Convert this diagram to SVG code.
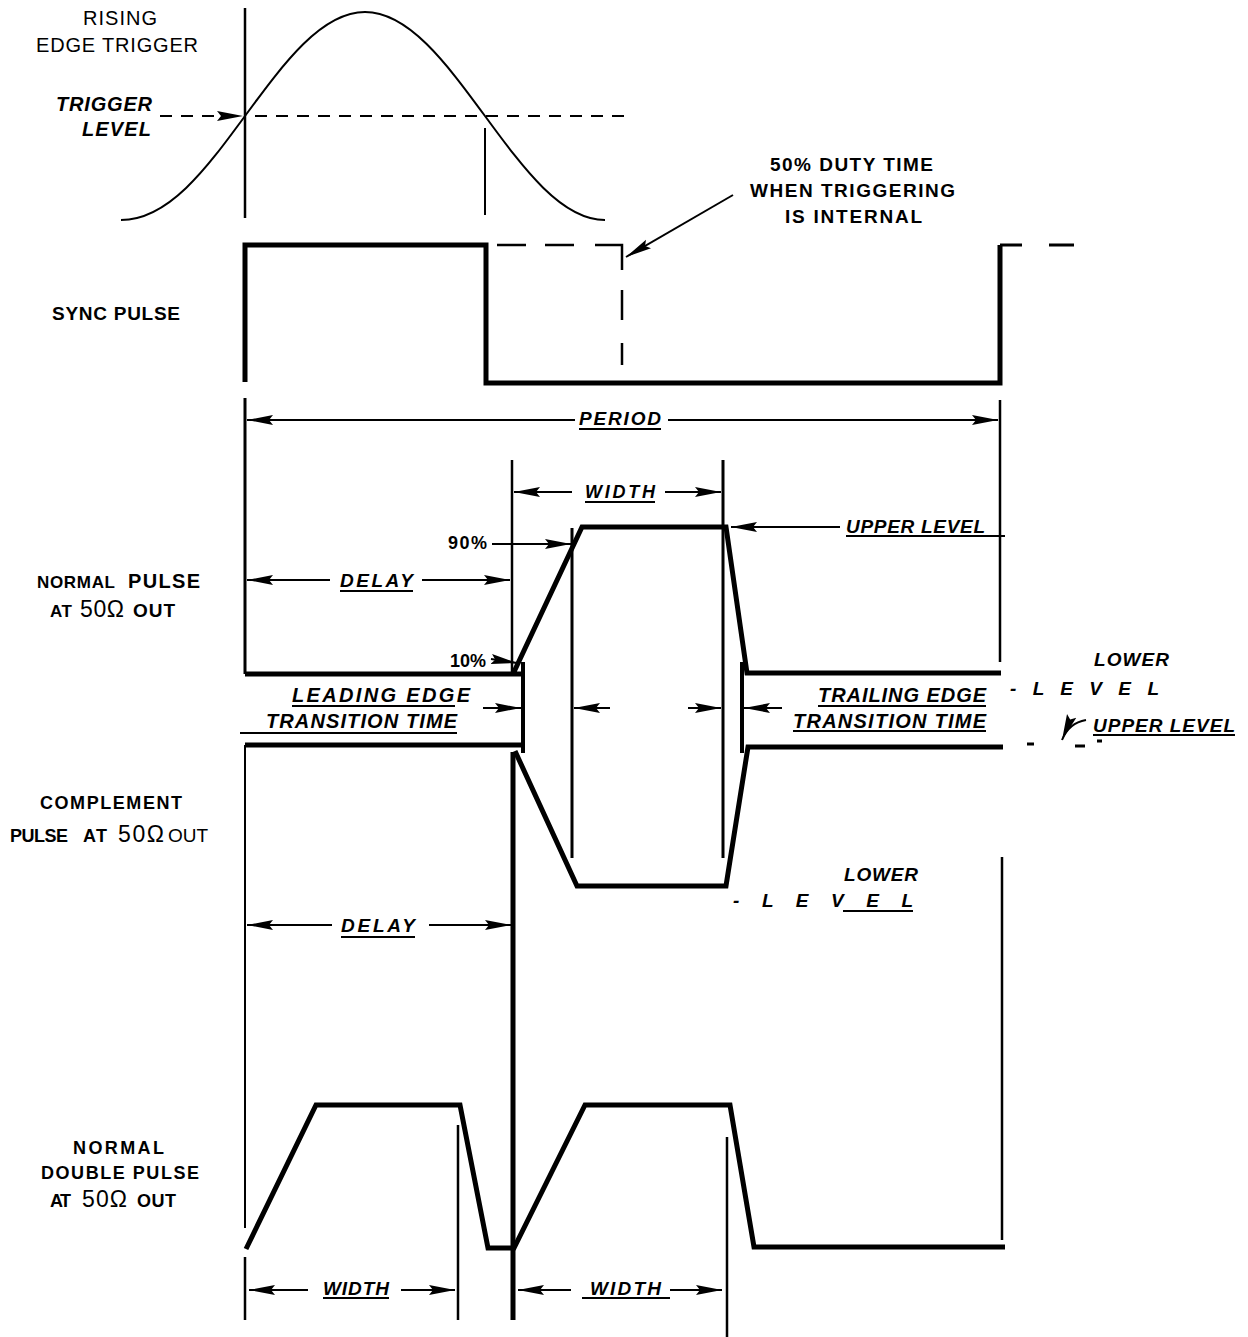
<svg xmlns="http://www.w3.org/2000/svg" width="1248" height="1337" viewBox="0 0 1248 1337">
<defs>
<marker id="ah" markerUnits="userSpaceOnUse" viewBox="0 0 26 11" markerWidth="26" markerHeight="11" refX="26" refY="5.5" orient="auto"><path d="M0,0.5 L26,5.5 L0,10.5 L4,5.5 z" fill="#000"/></marker>
<marker id="ahs" markerUnits="userSpaceOnUse" viewBox="0 0 20 9" markerWidth="20" markerHeight="9" refX="20" refY="4.5" orient="auto"><path d="M0,0.5 L20,4.5 L0,8.5 L3,4.5 z" fill="#000"/></marker>
<style>
.w{fill:none;stroke:#000;stroke-linecap:butt;stroke-linejoin:miter}
.s2{stroke-width:2}
.s25{stroke-width:2.5}
.s3{stroke-width:3}
.s4{stroke-width:4}
.s5{stroke-width:5}
.dim{fill:none;stroke:#000;stroke-width:2;marker-end:url(#ah)}
.ul{stroke:#000;stroke-width:2}
text{font-family:"Liberation Sans",Arial,Helvetica,sans-serif;fill:#000}
.b{font-weight:bold}
.r{font-weight:normal}
.bi{font-weight:bold;font-style:italic}
</style>
</defs>
<rect width="1248" height="1337" fill="#fff"/>

<g id="trigger-waveform">
<path class="w s2" d="M121,220 C168.4,220 205.9,169.3 245,116 C284.1,62.7 321.6,12 365,12 C408.4,12 445.9,62.7 485,116 C524.1,169.3 561.6,220 605,220"/>
<path class="w s25" d="M245,8 V218"/>
<path class="w s2" d="M485,128 V215"/>
<path class="w s2" d="M255,116 H628" stroke-dasharray="12 9"/>
</g>

<g id="sync-pulse">
<polyline class="w s5" points="245,382 245,245 486,245 486,383 1000,383 1000,245"/>
<path class="w s25" d="M497,245 H526 M545,245 H574 M595,245 H622 V270 M622,290 V320 M622,343 V365"/>
<path class="w s3" d="M1000,245 H1022 M1049,245 H1074"/>
</g>

<g id="normal-pulse">
<path class="w s3" d="M245,398 V674"/>
<path class="w s25" d="M1000,400 V662"/>
<path class="w s25" d="M512,460 V672"/>
<path class="w s3" d="M723,460 V858"/>
<path class="w s3" d="M572,528 V858"/>
<path class="w s5" d="M245,674 H521 M513,674 L582,527 H726 L747,673 H1001"/>
<path class="w s4" d="M523,662 V753 M742,662 V753"/>
</g>

<g id="complement-pulse">
<path class="w s5" d="M245,745 H523 M515,751 L577,886 H726 L748,747 H1003"/>
<path class="w s2" d="M245,745 V1228"/>
<path class="w s25" d="M1002,857 V1240"/>
</g>

<g id="double-pulse">
<path class="w s5" d="M513,752 V1320"/>
<path class="w s5" d="M246,1249 L316,1105 H460 L488,1248 H514 L585,1105 H730 L754,1247 H1005"/>
<path class="w s25" d="M458,1125 V1320 M727,1137 V1337 M245,1257 V1320"/>
</g>

<g id="connectors">
<path class="dim" d="M160,116 H243" stroke-dasharray="12 9" marker-end="url(#ahs)"/>
<path class="dim" d="M733,195 L626,257"/>
<path class="dim" d="M575,420 H247"/>
<path class="dim" d="M668,420 H998"/>
<path class="dim" d="M572,492 H514"/>
<path class="dim" d="M665,492 H721"/>
<path class="dim" d="M330,580 H247"/>
<path class="dim" d="M422,580 H510"/>
<path class="dim" d="M492,544 H571"/>
<path class="dim" d="M840,527 H731"/>
<path class="dim" d="M491,659 L517,663" marker-end="url(#ahs)"/>
<path class="dim" d="M483,708 H521"/>
<path class="dim" d="M610,708 H574"/>
<path class="dim" d="M688,708 H721"/>
<path class="dim" d="M782,708 H744"/>
<path class="dim" d="M332,925 H247"/>
<path class="dim" d="M429,925 H511"/>
<path class="dim" d="M308,1290 H249"/>
<path class="dim" d="M401,1290 H455"/>
<path class="dim" d="M571,1290 H518"/>
<path class="dim" d="M670,1290 H722"/>
<path class="dim" d="M1086,720 C1074,722 1066,730 1062,740" marker-end="url(#ahs)"/>
</g>

<g id="labels">
<text class="r" x="83" y="25" font-size="20" textLength="74">RISING</text>
<text class="r" x="36" y="52" font-size="20" textLength="162">EDGE TRIGGER</text>
<text class="bi" x="56" y="111" font-size="20" textLength="96">TRIGGER</text>
<text class="bi" x="82" y="136" font-size="20" textLength="69">LEVEL</text>

<text class="b" x="770" y="171" font-size="19" textLength="163">50%  DUTY  TIME</text>
<text class="b" x="750" y="197" font-size="19" textLength="205">WHEN  TRIGGERING</text>
<text class="b" x="785" y="223" font-size="19" textLength="137">IS  INTERNAL</text>

<text class="b" x="52" y="320" font-size="19" textLength="128">SYNC PULSE</text>

<text class="bi" x="579" y="425" font-size="19" textLength="82">PERIOD</text>
<line class="ul" x1="579" y1="429" x2="661" y2="429"/>

<text class="bi" x="585" y="498" font-size="18" textLength="70">WIDTH</text>
<line class="ul" x1="585" y1="502" x2="655" y2="502"/>

<text class="b" x="448" y="549" font-size="18" textLength="39">90%</text>
<text class="bi" x="846" y="533" font-size="19" textLength="139">UPPER LEVEL</text>
<line class="ul" x1="846" y1="536" x2="1005" y2="536"/>

<text class="bi" x="340" y="587" font-size="19" textLength="73">DELAY</text>
<line class="ul" x1="340" y1="591" x2="413" y2="591"/>

<text class="b" x="37" y="588" font-size="17" textLength="78">NORMAL</text>
<text class="b" x="128" y="588" font-size="20" textLength="72">PULSE</text>
<text class="b" x="50" y="617" font-size="17" textLength="22">AT</text>
<text class="r" x="80" y="617" font-size="23" textLength="44">50Ω</text>
<text class="b" x="133" y="617" font-size="19" textLength="42">OUT</text>

<text class="b" x="450" y="667" font-size="18" textLength="36">10%</text>

<text class="bi" x="292" y="702" font-size="20" textLength="178">LEADING  EDGE</text>
<line class="ul" x1="292" y1="706" x2="455" y2="706"/>
<text class="bi" x="266" y="728" font-size="20" textLength="191">TRANSITION  TIME</text>
<line class="ul" x1="240" y1="733" x2="457" y2="733"/>

<text class="bi" x="818" y="702" font-size="20" textLength="168">TRAILING  EDGE</text>
<line class="ul" x1="818" y1="706" x2="986" y2="706"/>
<text class="bi" x="793" y="728" font-size="20" textLength="193">TRANSITION  TIME</text>
<line class="ul" x1="793" y1="731" x2="986" y2="731"/>

<text class="bi" x="1094" y="666" font-size="19" textLength="75">LOWER</text>
<text class="bi" x="1010" y="695" font-size="19" textLength="149">- L E V E L</text>
<text class="bi" x="1093" y="732" font-size="19" textLength="142">UPPER LEVEL</text>
<line class="ul" x1="1093" y1="735" x2="1235" y2="735"/>
<path class="w s3" d="M1027,744 H1034 M1075,746 H1085 M1097,741 H1102"/>

<text class="b" x="40" y="809" font-size="18" textLength="142">COMPLEMENT</text>
<text class="b" x="10" y="842" font-size="18" textLength="58">PULSE</text>
<text class="b" x="83" y="842" font-size="18" textLength="24">AT</text>
<text class="r" x="118" y="842" font-size="23" textLength="46">50Ω</text>
<text class="r" x="168" y="842" font-size="19" textLength="40">OUT</text>

<text class="bi" x="844" y="881" font-size="19" textLength="74">LOWER</text>
<text class="bi" x="733" y="907" font-size="19" textLength="180">-  L  E  V  E  L</text>
<line class="ul" x1="843" y1="911" x2="913" y2="911"/>

<text class="bi" x="341" y="932" font-size="19" textLength="74">DELAY</text>
<line class="ul" x1="341" y1="937" x2="415" y2="937"/>

<text class="b" x="73" y="1154" font-size="18" textLength="91">NORMAL</text>
<text class="b" x="41" y="1179" font-size="18" textLength="158">DOUBLE  PULSE</text>
<text class="b" x="50" y="1207" font-size="18" textLength="21">AT</text>
<text class="r" x="82" y="1207" font-size="23" textLength="45">50Ω</text>
<text class="b" x="137" y="1207" font-size="18" textLength="39">OUT</text>

<text class="bi" x="323" y="1295" font-size="19" textLength="66">WIDTH</text>
<line class="ul" x1="323" y1="1298" x2="389" y2="1298"/>
<text class="bi" x="590" y="1295" font-size="19" textLength="71">WIDTH</text>
<line class="ul" x1="582" y1="1298" x2="670" y2="1298"/>
</g>
</svg>
